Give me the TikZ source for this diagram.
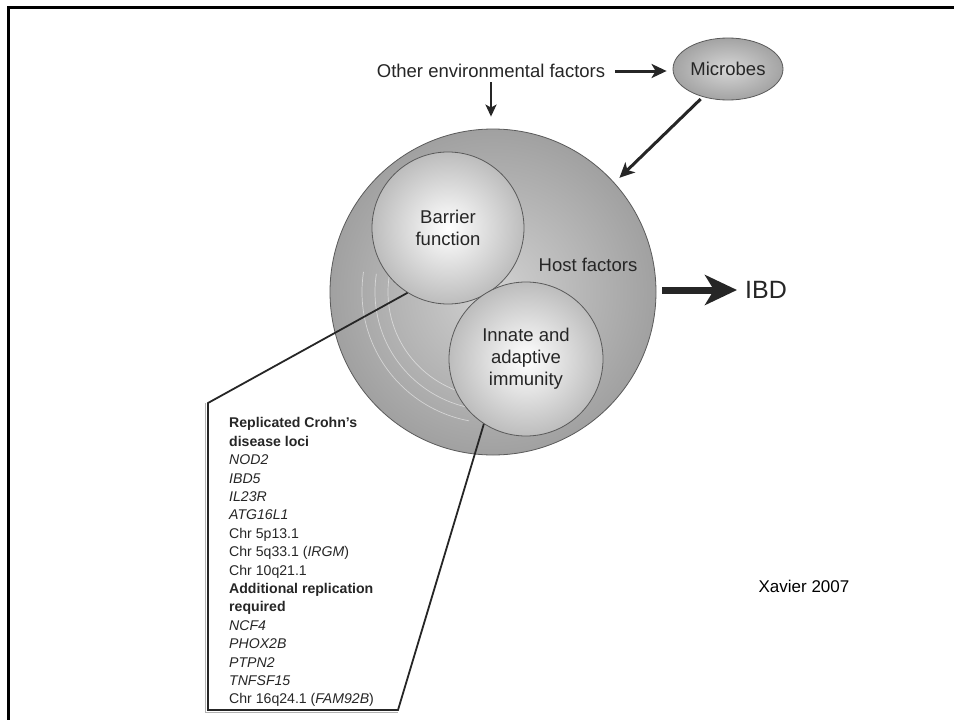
\documentclass[tikz,border=0pt]{standalone}
\usepackage{fontspec}
\setmainfont{Liberation Sans}
\usetikzlibrary{arrows.meta,calc,shapes.geometric}
\definecolor{ink}{HTML}{262626}
\definecolor{edgegray}{HTML}{5A5A5A}
\begin{document}
\begin{tikzpicture}[x=1pt,y=-1pt,
  lab/.style={font=\fontsize{18.5}{22}\selectfont, text=ink, inner sep=0pt},
  hostball/.style={circle, draw=edgegray, line width=0.8pt, minimum size=326pt, inner sep=0pt, inner color=gray!36, outer color=gray!74},
  subball/.style={circle, draw=edgegray, line width=0.8pt, inner sep=0pt, inner color=white, outer color=gray!52, align=center, font=\fontsize{18.5}{22}\selectfont, text=ink},
  micball/.style={ellipse, draw=edgegray, line width=0.8pt, minimum width=110pt, minimum height=62pt, inner sep=0pt, inner color=gray!32, outer color=gray!72, font=\fontsize{18.5}{22}\selectfont, text=ink},
  fatarrow/.style={draw=ink, line width=3pt, -{Stealth[length=15pt,width=14pt,inset=4pt]}},
  thinarrow/.style={draw=ink, line width=2.5pt, -{Stealth[length=12pt,width=11pt,inset=3pt]}},
  ibdarrow/.style={draw=ink, line width=7pt, -{Stealth[length=32pt,width=30pt,inset=9pt]}},
  callout/.style={draw=ink, line width=1.8pt, line join=miter},
  calloutshadow/.style={draw=gray!60, line width=1.5pt},
  arcline/.style={draw=white, opacity=0.5, line width=0.7pt}
]
\useasboundingbox (0,0) rectangle (954,720);
\fill[white] (0,0) rectangle (954,720);
% frame (top and left only)
\draw[line width=3pt] (8.5,720) -- (8.5,7.5) -- (954,7.5);

% host sphere
\node[hostball] (host) at (493,292) {};
\begin{scope}
  \clip (493,292) -- (300,262) -- (300,470) -- (460,470) -- cycle;
  \foreach \r in {105,118,131} \draw[arcline] (host.center) circle[radius=\r pt];
\end{scope}
\node[subball, minimum size=152pt] (barrier) at (448,228) {Barrier\\function};
\node[subball, minimum size=154pt] (innate) at (526,359) {Innate and\\adaptive\\immunity};
\node[lab] (hostlab) at (588,265) {Host factors};

% top labels
\node[lab] (env) at (491,71) {Other environmental factors};
\node[micball] (mic) at (728,69) {Microbes};

% outcome
\node[font=\fontsize{25}{30}\selectfont, text=ink, inner sep=0pt, anchor=west] (ibd) at (745,290) {IBD};
\node[font=\fontsize{17}{20}\selectfont, text=black, inner sep=0pt] (xav) at (804,586) {Xavier 2007};

% arrows
\draw[fatarrow, shorten <=10pt, shorten >=6pt] (env.east) -- (env.east -| mic.west);
\draw[thinarrow, shorten <=4.5pt, shorten >=12pt] (env.south) -- (env.south |- host.north);
\draw[fatarrow, shorten <=3pt, shorten >=7pt] (mic.228) -- (host.42);
\draw[ibdarrow, shorten <=6pt, shorten >=8pt] (ibd.west -| host.east) -- (ibd.west);

% callout box
\coordinate (boxtl) at (208,403);
\coordinate (boxbl) at (208,710);
\coordinate (boxbr) at (398,710);
\draw[calloutshadow] ([shift={(-2.5,0)}]boxtl) -- ([shift={(-2.5,2.5)}]boxbl) -- ([shift={(0,2.5)}]boxbr);
\draw[callout] (barrier.238) -- (boxtl) -- (boxbl) -- (boxbr) -- (innate.237);

\node[anchor=north west, align=left, inner sep=0pt, text=ink, font=\fontsize{14.1}{18.4}\selectfont] (loci) at (229,417.5)
{\textbf{Replicated Crohn's}\\
 \textbf{disease loci}\\
 \textit{NOD2}\\
 \textit{IBD5}\\
 \textit{IL23R}\\
 \textit{ATG16L1}\\
 Chr 5p13.1\\
 Chr 5q33.1 (\textit{IRGM})\\
 Chr 10q21.1\\
 \textbf{Additional replication}\\
 \textbf{required}\\
 \textit{NCF4}\\
 \textit{PHOX2B}\\
 \textit{PTPN2}\\
 \textit{TNFSF15}\\
 Chr 16q24.1 (\textit{FAM92B})};
\end{tikzpicture}
\end{document}
